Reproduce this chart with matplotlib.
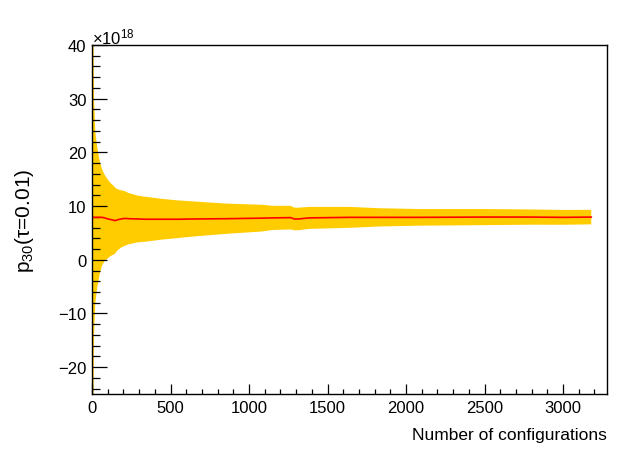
import matplotlib
matplotlib.use("Agg")
import matplotlib.pyplot as plt
from matplotlib.ticker import MultipleLocator
import numpy as np

plt.rcParams["font.family"] = ["Liberation Sans", "DejaVu Sans"]
plt.rcParams["mathtext.fontset"] = "custom"
plt.rcParams["mathtext.rm"] = "Liberation Sans"
plt.rcParams["mathtext.it"] = "Liberation Sans"

# running estimate of p30 (units of 1e18) vs number of configurations
n_conf = [1, 4, 8, 13, 21, 27, 34, 41, 49, 64, 81, 102, 118, 133, 146, 158,
          184, 208, 231, 292, 337, 443, 549, 654, 864, 1078, 1150, 1266, 1288,
          1315, 1383, 1638, 1830, 2085, 2500, 2800, 3000, 3180]
p30_mean = [7.9, 7.9, 7.9, 7.9, 7.9, 7.9, 7.9, 7.9, 7.9, 7.9, 7.8, 7.6,
            7.5, 7.4, 7.3, 7.4, 7.6, 7.7, 7.65, 7.6, 7.55, 7.55, 7.55, 7.6,
            7.65, 7.75, 7.8, 7.85, 7.6, 7.6, 7.8, 7.9, 7.9, 7.9, 7.95, 7.95,
            7.9, 7.95]
p30_err = [90.0, 60.0, 40.0, 22.0, 16.0, 14.5, 13.0, 11.8, 10.5, 9.0, 8.0,
           7.3, 6.8, 6.5, 6.2, 5.8, 5.35, 5.1, 4.8, 4.35, 4.2, 3.8, 3.5,
           3.25, 2.8, 2.5, 2.25, 2.2, 2.1, 2.1, 2.05, 1.95, 1.7, 1.55, 1.5,
           1.42, 1.38, 1.35]

x = np.array(n_conf)
y = np.array(p30_mean)
e = np.array(p30_err)

fig = plt.figure(figsize=(6.28, 4.60), dpi=100)
ax = fig.add_axes([0.1465, 0.1413, 0.82, 0.7587])

ax.fill_between(x, y - e, y + e, color="#ffcc00", lw=0)
ax.plot(x, y, color="#ff0000", lw=1.2)

ax.set_xlim(0, 3280)
ax.set_ylim(-25, 40)

ax.xaxis.set_major_locator(MultipleLocator(500))
ax.xaxis.set_minor_locator(MultipleLocator(100))
ax.yaxis.set_major_locator(MultipleLocator(10))
ax.yaxis.set_minor_locator(MultipleLocator(2))

ax.tick_params(axis="both", which="both", direction="in", top=False, right=False,
               labelsize=12, width=0.9)
ax.tick_params(axis="y", which="major", length=11, pad=4)
ax.tick_params(axis="y", which="minor", length=5.8)
ax.tick_params(axis="x", which="major", length=7.2, pad=4)
ax.tick_params(axis="x", which="minor", length=3.6)
ax.set_yticks([-20, -10, 0, 10, 20, 30, 40])
ax.set_yticklabels(["\u221220", "\u221210", "0", "10", "20", "30", "40"])

for s in ax.spines.values():
    s.set_linewidth(1.0)

ax.set_xlabel("Number of configurations", fontsize=12.5, loc="right", labelpad=9)
ax.set_ylabel("p$_{30}$(\u03c4=0.01)", fontsize=15, labelpad=16)

ax.text(0.0, 1.006, "\u00d710$^{18}$", transform=ax.transAxes, fontsize=12,
        ha="left", va="baseline")

fig.savefig("out.png", dpi=100)
